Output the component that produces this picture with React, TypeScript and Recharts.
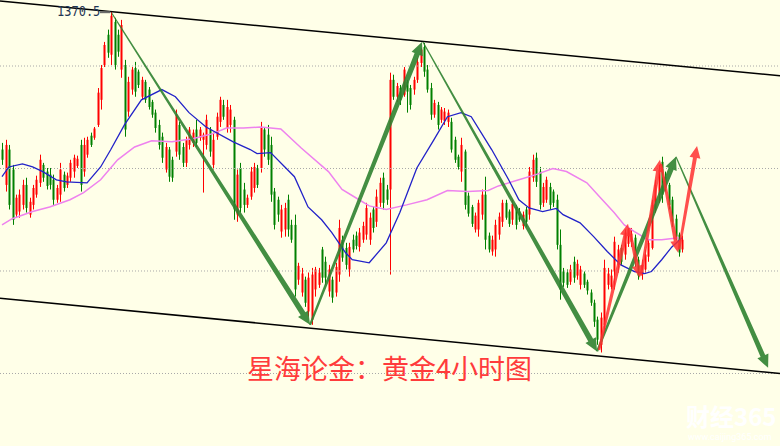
import { ComposedChart, Bar, Line, XAxis, YAxis, ReferenceLine } from 'recharts';

// open, high, low, close (4 hour gold bars)
const ohlc: [number, number, number, number][] = [
  [1343.7, 1345.0, 1340.7, 1341.7], [1336.8, 1345.6, 1335.5, 1344.6], [1343.7, 1344.6, 1332.0, 1332.9], [1339.8, 1340.7, 1329.0, 1330.0],
  [1331.0, 1334.9, 1330.4, 1334.3], [1331.6, 1335.9, 1330.4, 1334.9], [1332.9, 1337.8, 1332.0, 1336.8], [1336.8, 1338.2, 1331.4, 1332.3],
  [1331.0, 1334.3, 1330.4, 1333.5], [1332.9, 1336.8, 1332.0, 1336.2], [1334.9, 1338.6, 1334.3, 1337.8], [1337.2, 1342.7, 1336.4, 1341.7],
  [1340.7, 1341.1, 1337.4, 1338.2], [1339.4, 1340.1, 1335.9, 1336.6], [1338.8, 1340.1, 1335.9, 1336.8], [1337.8, 1338.8, 1332.9, 1333.9],
  [1333.9, 1336.8, 1333.3, 1336.2], [1334.9, 1341.1, 1333.5, 1339.8], [1338.8, 1339.4, 1335.5, 1336.2], [1336.8, 1339.2, 1336.2, 1338.6],
  [1338.2, 1341.7, 1337.4, 1341.1], [1339.4, 1342.7, 1338.2, 1342.1], [1340.5, 1342.5, 1340.1, 1341.9], [1344.6, 1345.6, 1335.5, 1336.8],
  [1339.4, 1346.0, 1338.4, 1344.6], [1342.7, 1346.2, 1342.1, 1345.6], [1346.4, 1347.0, 1344.2, 1344.6], [1346.0, 1348.1, 1345.6, 1347.8],
  [1348.5, 1355.7, 1348.1, 1354.8], [1353.4, 1360.2, 1351.5, 1359.6], [1360.2, 1364.7, 1359.8, 1364.1], [1366.1, 1367.1, 1361.6, 1362.6],
  [1362.2, 1370.5, 1360.2, 1369.8], [1368.6, 1369.4, 1359.3, 1360.2], [1366.1, 1367.1, 1361.8, 1362.8], [1359.3, 1369.0, 1357.7, 1368.0],
  [1360.2, 1361.2, 1346.2, 1347.6], [1351.1, 1357.9, 1350.1, 1356.9], [1355.4, 1359.8, 1354.4, 1359.3], [1359.6, 1360.8, 1354.0, 1355.0],
  [1358.9, 1359.3, 1355.7, 1356.3], [1354.0, 1357.9, 1353.4, 1357.3], [1356.9, 1357.3, 1352.8, 1353.4], [1355.4, 1355.9, 1351.5, 1352.0],
  [1353.0, 1353.4, 1349.9, 1350.5], [1350.9, 1351.5, 1347.0, 1347.9], [1348.5, 1349.5, 1343.7, 1344.6], [1346.2, 1347.0, 1341.1, 1342.1],
  [1339.8, 1345.0, 1339.2, 1344.2], [1343.7, 1344.2, 1337.4, 1338.4], [1341.7, 1342.3, 1337.4, 1338.2], [1343.3, 1351.5, 1342.3, 1350.5],
  [1348.5, 1349.1, 1341.7, 1342.7], [1344.2, 1345.0, 1340.3, 1341.1], [1341.1, 1346.2, 1340.3, 1345.6], [1344.6, 1348.1, 1343.7, 1347.6],
  [1345.0, 1347.6, 1344.2, 1347.0], [1347.6, 1349.5, 1344.2, 1345.0], [1346.0, 1348.1, 1345.4, 1347.6], [1345.6, 1347.0, 1335.3, 1346.6],
  [1344.6, 1350.5, 1343.7, 1349.5], [1347.6, 1348.1, 1342.3, 1343.3], [1340.7, 1347.0, 1339.8, 1345.6], [1346.2, 1350.9, 1345.6, 1350.1],
  [1349.1, 1354.0, 1348.1, 1353.4], [1352.4, 1353.4, 1349.5, 1350.1], [1347.9, 1353.4, 1347.0, 1352.0], [1348.5, 1352.4, 1347.0, 1351.5],
  [1349.5, 1350.1, 1330.0, 1332.0], [1331.0, 1339.8, 1329.6, 1338.8], [1340.1, 1341.1, 1331.4, 1332.3], [1335.9, 1337.2, 1331.4, 1332.9],
  [1332.9, 1334.9, 1332.3, 1334.3], [1334.5, 1340.3, 1333.9, 1339.4], [1336.2, 1341.1, 1335.3, 1340.3], [1340.1, 1340.7, 1336.2, 1336.8],
  [1340.1, 1349.1, 1339.2, 1347.9], [1347.6, 1348.1, 1342.3, 1343.7], [1346.6, 1348.5, 1340.7, 1341.7], [1344.6, 1346.2, 1333.5, 1334.9],
  [1335.5, 1336.2, 1328.1, 1329.0], [1333.9, 1334.5, 1329.6, 1331.0], [1327.7, 1332.9, 1326.5, 1332.0], [1328.1, 1333.3, 1326.7, 1332.3],
  [1333.9, 1334.9, 1326.7, 1328.1], [1329.0, 1330.0, 1325.5, 1326.1], [1329.0, 1331.0, 1315.0, 1316.4], [1318.3, 1321.6, 1317.3, 1321.0],
  [1315.8, 1320.6, 1315.0, 1319.5], [1318.3, 1318.9, 1313.0, 1313.8], [1312.1, 1319.7, 1311.1, 1318.7], [1310.5, 1320.6, 1309.5, 1319.3],
  [1316.4, 1320.8, 1315.0, 1320.3], [1317.3, 1320.6, 1316.7, 1319.7], [1324.2, 1324.7, 1317.7, 1318.7], [1321.8, 1322.8, 1317.3, 1318.7],
  [1316.0, 1321.2, 1315.0, 1320.3], [1318.3, 1318.9, 1313.8, 1314.8], [1315.8, 1321.6, 1315.0, 1320.8], [1319.3, 1330.0, 1317.9, 1328.4],
  [1326.1, 1326.9, 1321.8, 1322.6], [1324.5, 1325.5, 1320.3, 1321.2], [1320.3, 1325.5, 1318.9, 1324.7], [1326.1, 1327.1, 1323.6, 1324.2],
  [1326.9, 1327.7, 1324.2, 1324.9], [1324.7, 1328.4, 1323.8, 1327.5], [1326.1, 1329.6, 1325.5, 1328.8], [1327.1, 1333.3, 1326.1, 1332.3],
  [1326.1, 1331.4, 1325.1, 1330.4], [1332.0, 1332.5, 1327.5, 1328.4], [1329.6, 1335.9, 1328.6, 1334.5], [1333.3, 1338.2, 1332.5, 1337.2],
  [1338.2, 1339.2, 1332.0, 1333.3], [1335.9, 1336.8, 1332.9, 1333.9], [1335.9, 1358.7, 1319.3, 1357.3], [1357.3, 1358.3, 1353.4, 1354.0],
  [1354.0, 1356.7, 1353.0, 1356.1], [1355.7, 1356.3, 1352.4, 1353.4], [1354.4, 1359.8, 1354.0, 1359.3], [1356.9, 1357.3, 1350.9, 1355.0],
  [1355.7, 1356.3, 1351.5, 1352.4], [1355.4, 1357.9, 1354.4, 1357.3], [1357.3, 1361.6, 1356.7, 1360.8], [1360.6, 1363.5, 1359.8, 1363.2],
  [1363.7, 1364.5, 1357.9, 1358.9], [1359.3, 1360.2, 1354.8, 1355.4], [1355.7, 1356.7, 1349.5, 1350.5], [1350.5, 1353.4, 1349.9, 1352.8],
  [1352.4, 1353.0, 1347.6, 1348.5], [1349.5, 1352.0, 1348.9, 1351.5], [1349.3, 1351.8, 1348.5, 1351.1], [1349.1, 1351.5, 1348.1, 1350.9],
  [1349.1, 1349.9, 1343.1, 1343.7], [1345.6, 1346.2, 1341.1, 1341.7], [1342.3, 1342.7, 1339.8, 1340.3], [1339.4, 1346.0, 1337.4, 1344.6],
  [1343.3, 1343.7, 1332.0, 1332.9], [1334.7, 1335.3, 1330.6, 1331.2], [1332.5, 1332.9, 1328.6, 1329.2], [1328.1, 1331.4, 1327.5, 1330.8],
  [1328.1, 1333.9, 1326.7, 1333.3], [1331.0, 1335.9, 1330.0, 1334.9], [1334.9, 1338.4, 1324.2, 1326.1], [1326.9, 1327.5, 1323.6, 1324.2],
  [1323.8, 1326.9, 1323.0, 1326.1], [1324.2, 1330.0, 1322.8, 1329.0], [1327.1, 1331.4, 1326.1, 1330.6], [1329.6, 1333.9, 1328.6, 1333.3],
  [1333.3, 1333.9, 1330.0, 1330.4], [1331.6, 1332.0, 1328.6, 1329.2], [1330.0, 1333.9, 1329.0, 1333.1], [1332.5, 1332.9, 1328.1, 1329.0],
  [1331.6, 1332.3, 1329.6, 1330.0], [1328.8, 1331.6, 1328.1, 1331.0], [1332.0, 1332.5, 1328.6, 1329.6], [1331.0, 1340.3, 1330.0, 1339.4],
  [1338.2, 1342.7, 1337.4, 1341.7], [1342.1, 1343.1, 1336.4, 1337.4], [1339.4, 1340.3, 1332.0, 1332.9], [1333.3, 1337.2, 1332.5, 1336.4],
  [1333.9, 1338.4, 1333.3, 1337.8], [1336.4, 1337.2, 1332.0, 1332.9], [1335.5, 1335.9, 1332.5, 1333.3], [1333.9, 1334.9, 1324.2, 1325.1],
  [1325.1, 1328.1, 1314.4, 1316.4], [1319.9, 1320.6, 1316.9, 1317.7], [1319.7, 1320.3, 1316.7, 1317.3], [1317.9, 1321.2, 1317.3, 1320.3],
  [1321.8, 1322.8, 1317.7, 1318.7], [1319.1, 1322.2, 1318.3, 1321.4], [1317.3, 1321.0, 1316.4, 1320.3], [1319.5, 1319.9, 1316.7, 1317.3],
  [1317.9, 1318.3, 1315.4, 1316.2], [1315.8, 1316.4, 1313.2, 1313.8], [1313.8, 1314.4, 1309.1, 1310.1], [1310.5, 1311.1, 1305.6, 1306.6],
  [1305.6, 1311.9, 1304.1, 1310.9], [1309.5, 1322.2, 1308.0, 1320.6], [1317.3, 1320.6, 1316.4, 1319.5], [1316.9, 1320.3, 1316.4, 1319.1],
  [1319.9, 1326.7, 1316.4, 1325.7], [1321.2, 1325.1, 1319.7, 1324.2], [1324.5, 1325.1, 1321.2, 1321.8], [1323.2, 1328.1, 1322.2, 1327.5],
  [1325.3, 1328.6, 1324.7, 1328.1], [1325.7, 1328.4, 1324.7, 1327.3], [1326.5, 1327.1, 1320.8, 1321.8], [1322.2, 1322.8, 1318.3, 1319.1],
  [1319.3, 1322.2, 1318.3, 1321.2], [1320.3, 1324.2, 1319.7, 1323.2], [1322.8, 1326.1, 1321.8, 1325.5], [1324.5, 1333.9, 1324.2, 1332.9],
  [1332.0, 1337.8, 1331.4, 1336.8], [1334.9, 1340.7, 1333.3, 1339.8], [1341.3, 1342.3, 1333.3, 1334.9], [1338.4, 1339.4, 1335.5, 1336.2],
  [1336.8, 1337.2, 1332.0, 1332.9], [1333.9, 1334.5, 1328.6, 1329.6], [1330.2, 1331.0, 1326.1, 1326.7], [1327.1, 1327.5, 1322.8, 1323.6],
  [1324.2, 1326.9, 1323.6, 1326.1],
];

// moving averages as [bar index, price]
const blueMa: [number, number][] = [
  [0, 1338.4], [2, 1340.3], [6, 1340.9], [9, 1340.3], [12, 1339.4], [16, 1337.8], [19, 1337.4], [25, 1337.2],
  [29, 1340.3], [32, 1343.7], [36, 1348.5], [41, 1353.4], [47, 1355.4], [51, 1354.0], [55, 1350.9], [60, 1348.1],
  [68, 1345.2], [73, 1343.7], [75, 1342.9], [79, 1343.1], [86, 1338.4], [90, 1332.5], [94, 1330.0], [97, 1327.5],
  [101, 1323.6], [103, 1322.2], [108, 1321.6], [113, 1325.5], [117, 1331.4], [122, 1340.1], [127, 1345.6], [131, 1350.1],
  [135, 1350.9], [138, 1350.1], [144, 1343.7], [149, 1337.8], [152, 1333.9], [155, 1332.3], [159, 1331.6], [163, 1332.2],
  [165, 1331.0], [170, 1329.4], [174, 1326.7], [178, 1323.8], [182, 1321.2], [186, 1319.9], [189, 1319.5], [191, 1319.9],
  [194, 1322.2], [197, 1324.7], [200, 1326.5],
];
const violetMa: [number, number][] = [
  [0, 1329.0], [3, 1330.2], [9, 1331.6], [14, 1332.5], [20, 1333.9], [24, 1335.3], [29, 1337.8], [34, 1341.7],
  [39, 1344.2], [44, 1345.4], [50, 1345.2], [56, 1345.8], [62, 1346.8], [66, 1347.9], [71, 1347.9], [76, 1348.1],
  [82, 1347.7], [88, 1344.0], [96, 1339.4], [100, 1335.9], [105, 1333.9], [108, 1332.7], [113, 1332.0], [119, 1332.9],
  [125, 1333.9], [131, 1335.7], [137, 1335.5], [143, 1335.7], [146, 1336.6], [152, 1337.8], [157, 1338.8], [162, 1340.0],
  [166, 1339.4], [172, 1337.2], [176, 1334.3], [180, 1331.4], [183, 1329.0], [186, 1327.7], [190, 1326.1], [194, 1326.1],
  [199, 1326.5],
];

const gridLevels = [1300, 1320, 1340, 1360];

// [from, to] in [bar index, price]
const channelLines: [number, number][][] = [
  [[-0.59, 1372.7], [228.8, 1358.1]],
  [[-0.59, 1314.7], [228.8, 1300.0]],
];
const greenArrows: [number, number][][] = [
  [[32.3, 1370.3], [90.6, 1309.5]],
  [[90.6, 1309.5], [123.5, 1364.7]],
  [[123.8, 1364.7], [175.0, 1304.3]],
  [[175.0, 1304.3], [198.2, 1342.3]],
  [[198.2, 1342.3], [225.3, 1301.1]],
];
const redArrows: [number, number][][] = [
  [[175.6, 1304.6], [184.1, 1329.2]],
  [[184.4, 1328.4], [187.6, 1318.7]],
  [[187.9, 1319.1], [193.5, 1341.7]],
  [[193.8, 1340.9], [198.8, 1323.6]],
  [[199.1, 1324.2], [204.4, 1344.4]],
];

const peakLabel = '1370.5';
const title = '星海论金：黄金4小时图';

const rows = ohlc.map(([o, h, l, c], i) => ({
  i, o, h, l, c, range: [l, h],
  blue: blueMa.find((p) => p[0] === i)?.[1] ?? null,
  violet: violetMa.find((p) => p[0] === i)?.[1] ?? null,
}));

function Candle(props: any) {
  const { x, y, width, height, payload } = props;
  if (!payload) return null;
  const cx = Math.round(x + width / 2);
  const k = height / (payload.h - payload.l);
  const yo = y + (payload.h - payload.o) * k;
  const yc = y + (payload.h - payload.c) * k;
  const color = payload.c >= payload.o ? '#ff0000' : '#008000';
  return (
    <g>
      <line x1={cx + 0.5} x2={cx + 0.5} y1={y} y2={y + height} stroke={color} strokeWidth={1} />
      <rect x={cx - 0.5} y={Math.min(yo, yc)} width={2} height={Math.max(1, Math.abs(yc - yo))} fill={color} />
    </g>
  );
}

// tapered arrow: thin tail, wider shaft near the head
const arrow = (color: string, w0: number, w1: number, headLen: number, headHalf: number, opacity: number) =>
  (p: any) => {
    const { x1, y1, x2, y2 } = p;
    const len = Math.hypot(x2 - x1, y2 - y1) || 1;
    const ux = (x2 - x1) / len, uy = (y2 - y1) / len;
    const nx = -uy, ny = ux;
    const bx = x2 - ux * headLen, by = y2 - uy * headLen;
    const pts = [
      [x1 + nx * w0 / 2, y1 + ny * w0 / 2],
      [bx + nx * w1 / 2, by + ny * w1 / 2],
      [bx + nx * headHalf, by + ny * headHalf],
      [x2, y2],
      [bx - nx * headHalf, by - ny * headHalf],
      [bx - nx * w1 / 2, by - ny * w1 / 2],
      [x1 - nx * w0 / 2, y1 - ny * w0 / 2],
    ];
    return <polygon points={pts.map((q) => q.join(',')).join(' ')} fill={color} fillOpacity={opacity} />;
  };

const greenShapes = [
  arrow('#2f8230', 1.2, 5.5, 13, 6, 0.9),
  arrow('#2f8230', 2.2, 5.5, 13, 6, 0.9),
  arrow('#2f8230', 1.2, 5.5, 13, 6, 0.9),
  arrow('#2f8230', 2.2, 5.5, 13, 6, 0.9),
  arrow('#2f8230', 1.2, 5, 13, 6, 0.9),
];
const redShape = arrow('#ff3030', 2.5, 4, 12, 5.5, 0.85);

export default function App() {
  return (
    <div style={{ position: 'absolute', left: 0, top: 0, width: 780, height: 446, background: '#ffffe8', overflow: 'hidden' }}>
      <ComposedChart width={780} height={446} data={rows} margin={{ top: 0, right: 0, bottom: 0, left: 0 }}>
        <XAxis type="number" dataKey="i" domain={[-0.59, 228.8]} hide allowDataOverflow />
        <YAxis type="number" domain={[1285.85, 1372.88]} hide allowDataOverflow />
        {gridLevels.map((g) => (
          <ReferenceLine key={g} y={g} stroke="#a8a8a8" strokeDasharray="1 2" />
        ))}
        <Bar dataKey="range" barSize={2} shape={Candle} isAnimationActive={false} />
        <Line dataKey="violet" stroke="#ee82ee" strokeWidth={1.5} dot={false} activeDot={false} connectNulls isAnimationActive={false} />
        <Line dataKey="blue" stroke="#2222c8" strokeWidth={1.3} dot={false} activeDot={false} connectNulls isAnimationActive={false} />
        {channelLines.map((s, k) => (
          <ReferenceLine key={'c' + k} segment={s.map(([x, y]) => ({ x, y }))} stroke="#000" strokeWidth={1.5} />
        ))}
        <ReferenceLine segment={[{ x: 28.8, y: 1370.5 }, { x: 31.8, y: 1370.5 }]} stroke="#6a6a6a" strokeWidth={2} />
        {greenArrows.map((s, k) => (
          <ReferenceLine key={'g' + k} segment={s.map(([x, y]) => ({ x, y }))} shape={greenShapes[k]} />
        ))}
        {redArrows.map((s, k) => (
          <ReferenceLine key={'r' + k} segment={s.map(([x, y]) => ({ x, y }))} shape={redShape} />
        ))}
      </ComposedChart>
      <div style={{ position: 'absolute', left: 57, top: 3, fontFamily: '"DejaVu Sans Mono", monospace', fontSize: 12, lineHeight: '14px', color: '#1f3654', transform: 'scaleY(1.2)', transformOrigin: 'left top' }}>
        {peakLabel}
      </div>
      <div style={{ position: 'absolute', left: 247, top: 353, fontFamily: '"Noto Sans CJK SC", sans-serif', fontSize: 27, lineHeight: '30px', color: '#ff3b3b', whiteSpace: 'nowrap' }}>
        {title}
      </div>
      <div style={{ position: 'absolute', left: 686, top: 403, fontFamily: '"Noto Sans CJK SC", sans-serif', fontSize: 24, fontWeight: 700, lineHeight: '25px', color: '#ffffff', whiteSpace: 'nowrap' }}>
        财经365
      </div>
      <div style={{ position: 'absolute', left: 688, top: 432, fontFamily: 'Roboto, sans-serif', fontSize: 9, lineHeight: '10px', color: '#ffffff', whiteSpace: 'nowrap' }}>
        www.caijing365.com
      </div>
    </div>
  );
}
